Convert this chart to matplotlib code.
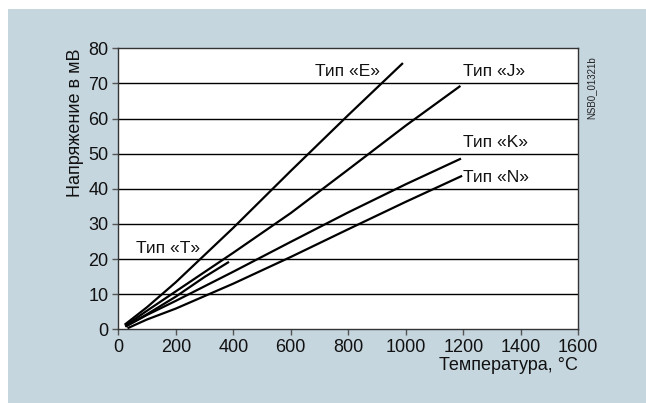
import matplotlib
matplotlib.use("Agg")
import matplotlib.pyplot as plt
from matplotlib.patches import Rectangle

plt.rcParams['font.family'] = ['Liberation Sans', 'DejaVu Sans']

# thermocouple curves, temperature in C and voltage in mV
temp_E = [22, 100, 200, 400, 600, 800, 990]
mv_E = [1.3, 6.3, 13.4, 28.9, 45.1, 61.0, 75.8]
temp_J = [24, 100, 200, 400, 600, 800, 1000, 1190]
mv_J = [1.0, 5.3, 10.8, 21.8, 33.1, 45.5, 58.0, 69.3]
temp_K = [26, 100, 200, 400, 600, 800, 1000, 1192]
mv_K = [0.8, 4.1, 8.1, 16.4, 24.9, 33.3, 41.3, 48.6]
temp_N = [32, 100, 200, 400, 600, 800, 1000, 1196]
mv_N = [0.3, 2.8, 5.9, 13.0, 20.6, 28.5, 36.3, 43.7]
temp_T = [24, 100, 200, 300, 385]
mv_T = [0.8, 4.3, 9.3, 14.9, 19.2]

labels = ["Тип «E»", "Тип «J»", "Тип «K»", "Тип «N»", "Тип «T»"]
label_x = [684, 1199, 1199, 1199, 62]
label_y = [73.4, 73.4, 53.2, 43.2, 23.1]

xticks = [0, 200, 400, 600, 800, 1000, 1200, 1400, 1600]
yticks = [0, 10, 20, 30, 40, 50, 60, 70, 80]

bg = '#c6d6df'
fig = plt.figure(figsize=(6.46, 4.03), dpi=100, facecolor='white')
fig.patches.append(Rectangle((8/646, 0), 1, 1 - 9/403, transform=fig.transFigure,
                             facecolor=bg, edgecolor='none', zorder=-1))

ax = fig.add_axes([118.3/646, 1 - 329.3/403, 460/646, 281/403])
ax.set_facecolor('white')

for t, v in [(temp_E, mv_E), (temp_J, mv_J), (temp_K, mv_K), (temp_N, mv_N), (temp_T, mv_T)]:
    ax.plot(t, v, color='black', lw=1.6, solid_capstyle='butt', zorder=3)

for lab, x, y in zip(labels, label_x, label_y):
    ax.text(x, y, lab, ha='left', va='center', fontsize=12.5, color='#111111')

ax.set_xlim(0, 1600)
ax.set_ylim(0, 80)
ax.set_xticks(xticks)
ax.set_yticks(yticks)
ax.tick_params(direction='out', length=4, width=1, color='#555555',
               labelsize=13, labelcolor='#111111', pad=3)
for y in yticks[1:-1]:
    ax.axhline(y, color='black', lw=1, zorder=1)
for s in ax.spines.values():
    s.set_color('#333333')
    s.set_linewidth(1)

ax.set_xlabel("Температура, °C", loc='right', fontsize=13, color='#111111', labelpad=1)
ax.set_ylabel("Напряжение в мВ", loc='top', fontsize=13, color='#111111', labelpad=3)

fig.text(591/646, 1 - 56/403, "NSB0_01321b", rotation=90, ha='center', va='top',
         fontsize=7, color='#222222')

fig.savefig("out.png", dpi=100, facecolor=fig.get_facecolor())
